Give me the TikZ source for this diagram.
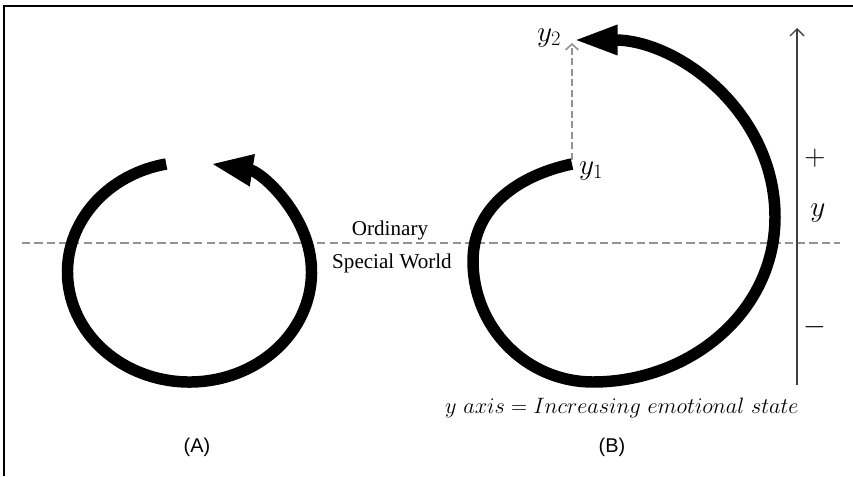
\RequirePackage{fix-cm}
\documentclass[tikz,border=0pt]{standalone}
\usepackage{fontspec}
\newfontfamily\timesfont{Liberation Serif}
\newfontfamily\arialfont{Liberation Sans}
\usetikzlibrary{arrows.meta,positioning}

\begin{document}
\begin{tikzpicture}[x=0.03cm,y=0.03cm,
  loopline/.style={line width=9.8pt, -{Triangle[length=36pt,width=25pt]}},
  worldline/.style={gray!85, dash pattern=on 7pt off 3.5pt, line width=1.5pt},
  textlbl/.style={font=\timesfont\fontsize{18}{20}\selectfont, inner sep=1pt},
  mathlbl/.style={font=\fontsize{25}{28}\selectfont, inner sep=1pt},
  caption/.style={font=\arialfont\fontsize{17}{20}\selectfont}]
  \useasboundingbox (0,0) rectangle (853,476);

  % Frame
  \draw[line width=2.2pt] (4,0) -- (4,470) -- (853,470);

  % Ordinary / Special World boundary
  \coordinate (wl) at (22,233);
  \coordinate (wr) at (840,233);
  \draw[worldline] (wl) -- (wr);
  \node[textlbl] (ord) at (390,246) {Ordinary};
  \node[textlbl] (spw) at (392,213) {Special World};

  % Loop A
  \draw[loopline] (189.5,204) ++(101:122 and 110)
    arc[start angle=101, end angle=440, x radius=122, y radius=110];

  % Loop B
  \coordinate (y1pt) at (572,312);
  \coordinate (y2pt) at (573,436);
  \coordinate (y2dash) at (572,433);
  \draw[loopline, -{Triangle[length=38pt,width=23pt]}] (y1pt)
    to[out=192,in=90] (473,215) to[out=-90,in=180] (593,94)
    to[out=0,in=-90] (775,259) to[out=90,in=0] (y2pt);
  \draw[gray!85, dash pattern=on 6pt off 3pt, line width=1.4pt,
    -{Straight Barb[length=5pt,width=11pt]}] (572,316) -- (y2dash);
  \node[mathlbl] (y1) at (591,305) {$y_1$};
  \node[mathlbl] (y2) at (549,438) {$y_2$};

  % y axis
  \coordinate (axbot) at (797,91);
  \coordinate (axtop) at (797,448);
  \draw[black!75, line width=1.1pt, -{Straight Barb[length=6pt,width=12pt]}] (axbot) -- (axtop);
  \node[mathlbl] (plus) at (815,318) {$+$};
  \node[mathlbl] (ylab) at (818,263) {$y$};
  \node[mathlbl] (minus) at (815,149) {$-$};
  \node[font=\fontsize{19}{22}\selectfont] (legend) at (622,68)
    {$y\ axis = Increasing\ emotional\ state$};

  % Panel labels
  \node[caption] (capA) at (197,29) {(A)};
  \node[caption] (capB) at (612,29) {(B)};
\end{tikzpicture}
\end{document}
